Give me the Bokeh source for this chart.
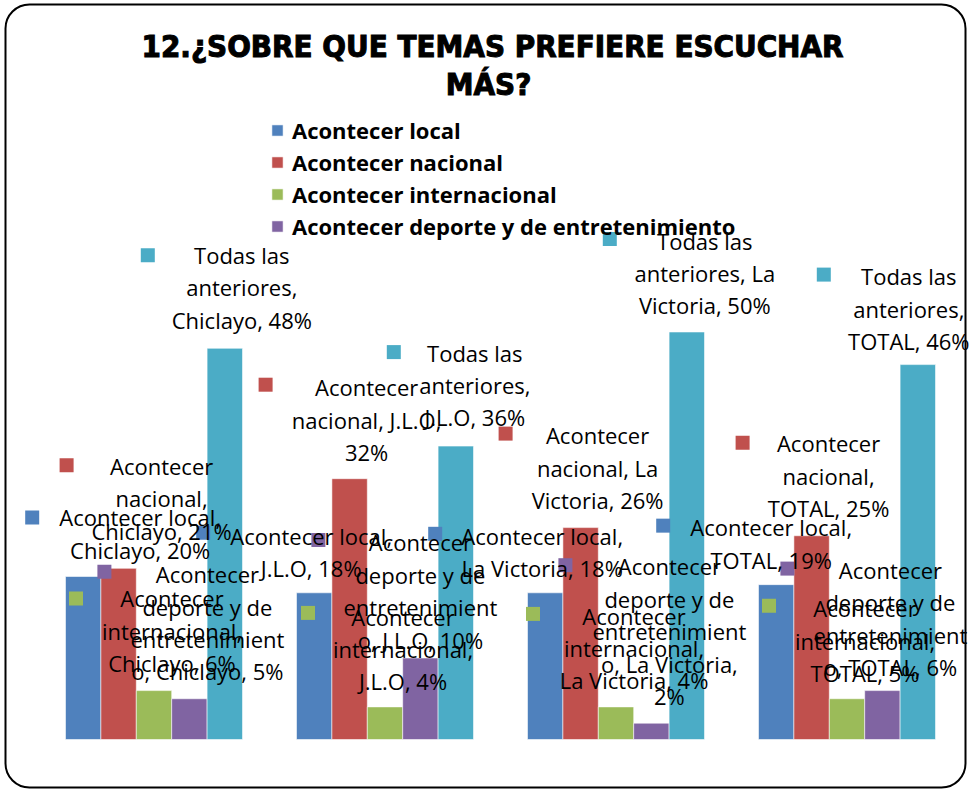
from bokeh.plotting import figure
from bokeh.models import (Range1d, ColumnDataSource, Legend, LegendItem, Label,
                          BoxAnnotation)
from bokeh.core.properties import value
from bokeh.embed import file_html
from bokeh.resources import INLINE

# ---------------- data ----------------
cities = ["Chiclayo", "J.L.O", "La Victoria", "TOTAL"]
series_names = ["Acontecer local", "Acontecer nacional", "Acontecer internacional",
                "Acontecer deporte y de entretenimiento", "Todas las anteriores"]
local = [20, 18, 18, 19]
nacional = [21, 32, 26, 25]
internacional = [6, 4, 4, 5]
deporte = [5, 10, 2, 6]
todas = [48, 36, 50, 46]
title_lines = ["12.¿SOBRE QUE TEMAS PREFIERE ESCUCHAR", "MÁS?"]

series_values = [local, nacional, internacional, deporte, todas]
colors = ["#4F81BD", "#C0504D", "#9BBB59", "#8064A2", "#4BACC6"]

# ---------------- layout ----------------
W, H = 970, 789
PLOT_LEFT = 38               # pixel where the first category starts
BASELINE = 739               # pixel of the 0 % line
PXX = 231                    # pixels per category
PXY = 8.15                   # pixels per percent
BW = 35.4 / PXX              # bar width in category units
LABEL_FONT = "Open Sans"
LABEL_SIZE = 22

# label offsets (pixels) from the bar top: marker (dx, dy), text centre (dx, dy)
marker_off = [
    [(-51, -59), (-52, -103), (-78, -92), (-85, -127), (-77, -93)],
    [(-111, -60), (-84, -94), (-77, -94), (-102, -118), (-62, -94)],
    [(-110, -59), (-75, -94), (-83, -93), (-86, -158), (-77, -93)],
    [(-113, -59), (-69, -93), (-78, -93), (-95, -122), (-94, -90)],
]
text_off = [
    [(57, -43), (43, -70), (18, -60), (18, -76), (17, -61)],
    [(-3, -41), (17, -59), (18, -58), (0, -67), (19, -61)],
    [(-3, -41), (17, -60), (18, -59), (18, -92), (18, -59)],
    [(-5, -41), (17, -60), (18, -58), (8, -72), (-9, -56)],
]

# approximate glyph widths (em) used to wrap labels like the original
CW = {"A": .63, "C": .63, "J": .27, "L": .52, "O": .78, "T": .56, "V": .6,
      "a": .56, "c": .48, "d": .61, "e": .56, "h": .61, "i": .26, "l": .26,
      "m": .93, "n": .61, "o": .6, "p": .61, "r": .41, "s": .46, "t": .35,
      "y": .5, ",": .25, ".": .27, " ": .26, "%": .86}


def cw(ch):
    if ch in CW:
        return CW[ch]
    if ch.isdigit():
        return .57
    return .65 if ch.isupper() else .55


def tw(s):
    return sum(cw(c) for c in s)


def wrap(text, limit=7.5):
    lines, cur = [], ""
    for word in text.split(" "):
        cand = word if not cur else cur + " " + word
        if tw(cand) <= limit:
            cur = cand
            continue
        if cur:
            lines.append(cur)
            cur = ""
        while tw(word) > limit:
            part = ""
            for ch in word:
                if tw(part + ch) > limit:
                    break
                part += ch
            lines.append(part)
            word = word[len(part):]
        cur = word
    if cur:
        lines.append(cur)
    return "\n".join(lines)


def to_x(px):
    return (px - PLOT_LEFT) / PXX


def to_y(py):
    return (BASELINE - py) / PXY


p = figure(width=W, height=H,
           x_range=Range1d(to_x(0), to_x(W)), y_range=Range1d(to_y(H), to_y(0)),
           output_backend="svg", toolbar_location=None,
           min_border_left=0, min_border_right=0, min_border_top=0,
           min_border_bottom=0)
p.axis.visible = False
p.grid.visible = False
p.outline_line_color = None
p.background_fill_color = "white"
p.border_fill_color = "white"

renderers = []
for k, vals in enumerate(series_values):
    xs = [i + 0.5 + (k - 2) * BW for i in range(len(cities))]
    src = ColumnDataSource(dict(x=xs, v=vals, city=cities))
    r = p.vbar(x="x", top="v", bottom=0, width=BW, source=src,
               fill_color=colors[k], line_color="white", line_alpha=0.55,
               line_width=1)
    renderers.append(r)

# data labels
mx, my, mc, tx, ty, tt, tdx, tdy = [], [], [], [], [], [], [], []
for i, city in enumerate(cities):
    for k, vals in enumerate(series_values):
        v = vals[i]
        xc = i + 0.5 + (k - 2) * BW
        mdx, mdy = marker_off[i][k]
        mx.append(xc + mdx / PXX)
        my.append(v - mdy / PXY)
        mc.append(colors[k])
        tdx_, tdy_ = text_off[i][k]
        tx.append(xc)
        ty.append(v)
        tdx.append(tdx_)
        tdy.append(tdy_)
        tt.append(wrap(f"{series_names[k]}, {city}, {v}%"))

p.scatter(x="x", y="y", source=ColumnDataSource(dict(x=mx, y=my, c=mc)),
          marker="square", size=14, fill_color="c", line_color=None)
p.text(x="x", y="y", text="t", x_offset="dx", y_offset="dy",
       source=ColumnDataSource(dict(x=tx, y=ty, t=tt, dx=tdx, dy=tdy)),
       text_align="center", text_baseline="middle", text_color="black",
       text_font=value(LABEL_FONT), text_font_size=f"{LABEL_SIZE}px",
       text_line_height=1.08)

# legend (only the first four series are visible in the original)
legend = Legend(items=[LegendItem(label=series_names[k], renderers=[renderers[k]])
                       for k in range(4)],
                location=(270, H - 242), orientation="vertical",
                glyph_width=14, glyph_height=14, label_standoff=8, label_height=32,
                spacing=0, padding=0, margin=0, border_line_color=None,
                background_fill_alpha=0, label_text_font=LABEL_FONT,
                label_text_font_style="bold", label_text_font_size="22px",
                label_text_color="black")
p.add_layout(legend)

for line, (px, py) in zip(title_lines, [(492, 45), (488, 83)]):
    lbl = Label(x=to_x(px), y=to_y(py), text=line, text_align="center",
                text_baseline="middle", text_font="DejaVu Sans Condensed",
                text_font_style="bold", text_font_size="31px",
                text_color="black")
    try:
        lbl.text_outline_color = "black"
    except Exception:
        pass
    p.add_layout(lbl)

border = BoxAnnotation(left=5, right=W - 5, top=4, bottom=H - 2,
                       left_units="canvas", right_units="canvas",
                       top_units="canvas", bottom_units="canvas",
                       fill_alpha=0, line_color="black", line_alpha=1,
                       line_width=2, border_radius=24)
p.add_layout(border)

open("out.html", "w").write(file_html(p, INLINE))
